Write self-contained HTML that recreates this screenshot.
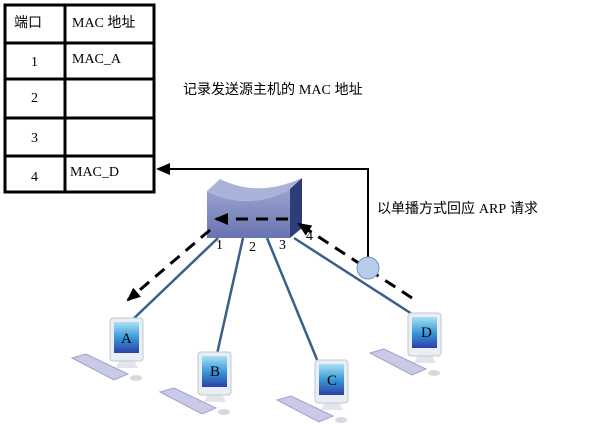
<!DOCTYPE html>
<html><head><meta charset="utf-8"><style>
body{margin:0;background:#fff;width:608px;height:424px;overflow:hidden;}
svg{display:block}
text{font-family:"Liberation Serif","Noto Serif CJK SC",serif;font-size:14px;fill:#000}
.cjk{font-family:"Liberation Sans","Noto Sans CJK SC",sans-serif;font-size:14px}
</style></head><body>
<svg width="608" height="424" viewBox="0 0 608 424" xmlns="http://www.w3.org/2000/svg">
<defs>
<linearGradient id="scr" x1="0" y1="0" x2="0" y2="1"><stop offset="0" stop-color="#a8e0f4"/><stop offset="0.5" stop-color="#3a9ad8"/><stop offset="1" stop-color="#2a40a8"/></linearGradient>
<linearGradient id="sw" x1="0" y1="0" x2="0" y2="1"><stop offset="0" stop-color="#9aa4d0"/><stop offset="1" stop-color="#6874b0"/></linearGradient>
<g id="pc">
<polygon points="-38,40 -24,36 18,56 4,62" fill="#c8cae8" stroke="#a0a2c8" stroke-width="1"/>
<ellipse cx="26" cy="60" rx="6" ry="3" fill="#d8d8e0"/>
<polygon points="10,42 24,42 28,50 6,50" fill="#e4e4ec"/>
<rect x="0" y="0" width="33" height="43" rx="3" fill="#e8eef4" stroke="#c0c8d0"/>
<rect x="4" y="4" width="25" height="31" fill="url(#scr)"/>
</g>
<marker id="ah2" markerWidth="14" markerHeight="12" refX="12" refY="6" orient="auto" markerUnits="userSpaceOnUse"><path d="M0,0 L14,6 L0,12 z" fill="#000"/></marker>
</defs>
<g fill="none" stroke="#000" stroke-width="3">
<rect x="5" y="5" width="149" height="187"/>
<line x1="65" y1="5" x2="65" y2="192"/>
<line x1="5" y1="43" x2="154" y2="43"/>
<line x1="5" y1="79" x2="154" y2="79"/>
<line x1="5" y1="118" x2="154" y2="118"/>
<line x1="5" y1="156" x2="154" y2="156"/>
</g>
<text x="14" y="27" class="cjk">端口</text>
<text x="72" y="27">MAC <tspan class="cjk">地址</tspan></text>
<text x="31" y="66">1</text><text x="72" y="63">MAC_A</text>
<text x="31" y="102">2</text>
<text x="31" y="142">3</text>
<text x="31" y="181">4</text><text x="70" y="176">MAC_D</text>
<text x="183" y="94" class="cjk">记录发送源主机的 <tspan style="font-family:'Liberation Serif',serif">MAC</tspan> 地址</text>
<text x="377" y="213" class="cjk">以单播方式回应 <tspan style="font-family:'Liberation Serif',serif">ARP</tspan> 请求</text>
<g stroke="#3a5f8a" stroke-width="2.5">
<line x1="218" y1="238" x2="128" y2="324"/>
<line x1="243" y1="238" x2="217" y2="354"/>
<line x1="267" y1="238" x2="318" y2="362"/>
<line x1="294" y1="238" x2="412" y2="314"/>
</g>
<path d="M207,191 Q248,212 290,189 L290,238 L207,238 Z" fill="url(#sw)"/>
<path d="M207,191 L220,179 Q258,198 302,178 L290,189 Q248,212 207,191 Z" fill="#aab2d8"/>
<path d="M290,189 L302,178 L302,228 L290,238 Z" fill="#2c3e78"/>
<text x="216" y="249">1</text><text x="249" y="251">2</text><text x="279" y="249">3</text><text x="306" y="240">4</text>
<polyline points="368,258 368,169 158,169" fill="none" stroke="#000" stroke-width="2" marker-end="url(#ah2)"/>
<g stroke="#000" stroke-width="3" stroke-dasharray="12,8" fill="none">
<line x1="412" y1="298" x2="299" y2="224" marker-end="url(#ah2)"/>
<line x1="288" y1="219" x2="216" y2="219" marker-end="url(#ah2)"/>
<line x1="210" y1="230" x2="128" y2="300" marker-end="url(#ah2)"/>
</g>
<circle cx="368" cy="268" r="11" fill="#b8ccec" stroke="#7890b8"/>
<use href="#pc" x="110" y="318"/>
<use href="#pc" x="198" y="352"/>
<use href="#pc" x="315" y="360"/>
<use href="#pc" x="408" y="313"/>
<text x="121" y="343" style="font-size:15px">A</text><text x="210" y="376" style="font-size:15px">B</text><text x="327" y="385" style="font-size:15px">C</text><text x="421" y="337" style="font-size:15px">D</text>
</svg>
</body></html>
